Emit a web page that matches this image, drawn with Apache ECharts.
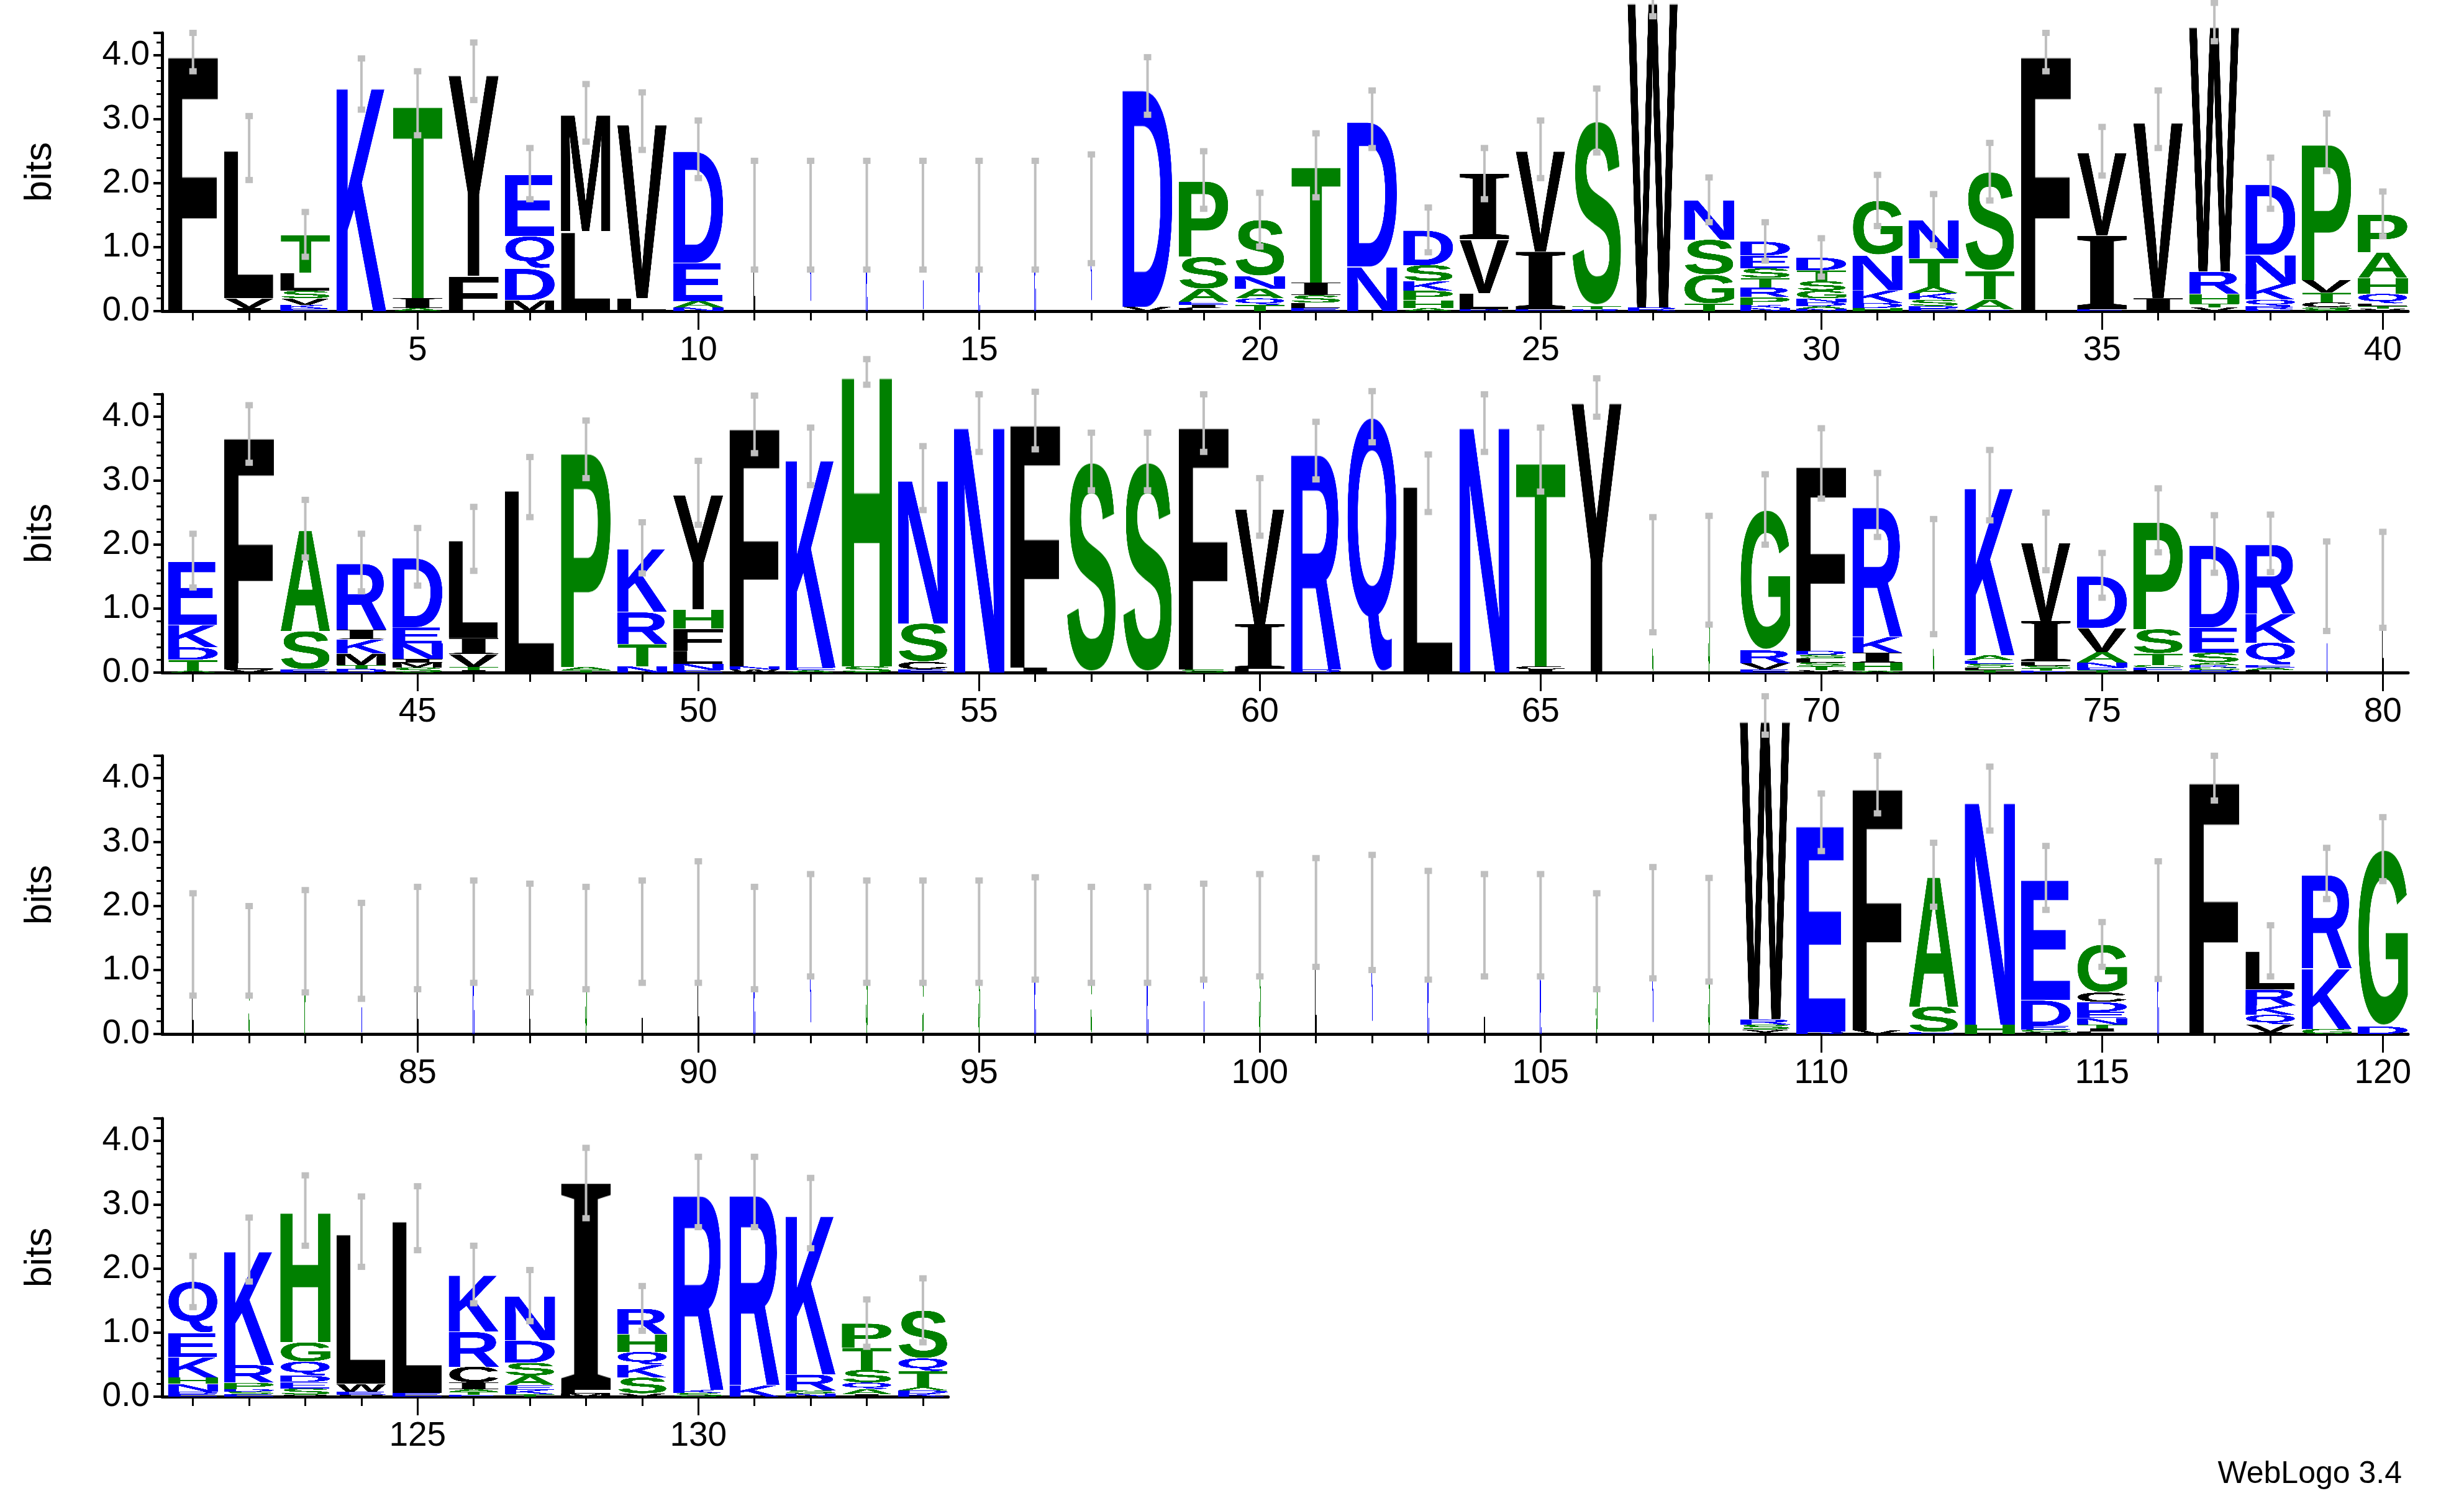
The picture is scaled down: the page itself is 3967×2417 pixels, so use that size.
<!DOCTYPE html>
<html><head><meta charset="utf-8">
<script src="https://cdn.jsdelivr.net/npm/echarts@6/dist/echarts.min.js"></script>
<style>html,body{margin:0;padding:0;background:#fff}#c{width:3967px;height:2417px}</style>
</head><body><div id="c"></div>
<script>
// ---------- DATA (letters listed bottom -> top, [letter, bits]) ----------
const row1Stacks = [
 [["F",4.05]],
 [["I",.05],["V",.15],["L",2.35]],
 [["E",.04],["K",.06],["V",.1],["S",.12],["L",.28],["T",.6]],
 [["K",3.55]],
 [["A",.05],["I",.15],["T",3.05]],
 [["F",.55],["Y",3.2]],
 [["M",.17],["D",.5],["Q",.5],["E",.98]],
 [["L",1.25],["M",1.85]],
 [["L",.2],["V",2.77]],
 [["N",.06],["A",.1],["E",.6],["D",1.77]],
 [["L",1.5]],[["K",1.5]],[["K",1.5]],[["K",1.5]],[["K",1.5]],[["K",1.5]],[["K",1.6]],
 [["V",.07],["D",3.45]],
 [["L",.05],["I",.05],["E",.05],["A",.2],["S",.5],["P",1.2]],
 [["T",.1],["Q",.1],["A",.15],["N",.2],["S",.88]],
 [["E",.05],["L",.08],["S",.12],["I",.2],["T",1.83]],
 [["N",.7],["D",2.3]],
 [["A",.05],["H",.12],["P",.15],["K",.15],["S",.25],["D",.55]],
 [["K",.03],["L",.25],["V",.85],["I",1.02]],
 [["E",.03],["I",.9],["V",1.6]],
 [["R",.03],["T",.05],["S",2.9]],
 [["R",.06],["W",4.85]],
 [["T",.12],["G",.45],["S",.55],["N",.62]],
 [["N",.05],["K",.05],["P",.12],["R",.15],["T",.15],["S",.15],["E",.2],["D",.22]],
 [["N",.04],["A",.04],["D",.06],["N",.06],["G",.12],["S",.15],["T",.17],["D",.2]],
 [["H",.05],["D",.08],["K",.2],["N",.55],["G",.85]],
 [["E",.04],["D",.04],["S",.1],["K",.1],["A",.1],["T",.45],["N",.6]],
 [["E",.03],["A",.15],["T",.45],["S",1.55]],
 [["F",4.05]],
 [["E",.03],["I",1.15],["V",1.32]],
 [["I",.2],["V",2.8]],
 [["V",.06],["T",.06],["H",.15],["R",.35],["W",3.9]],
 [["E",.03],["R",.05],["Q",.1],["K",.25],["N",.45],["D",1.12]],
 [["S",.03],["G",.03],["C",.08],["T",.15],["V",.2],["P",2.15]],
 [["V",.04],["T",.04],["L",.04],["Q",.15],["H",.25],["A",.4],["P",.6]]
];
const row1Err = [.3,.5,.35,.4,.5,.45,.4,.45,.45,.45,.85,.85,.85,.85,.85,.85,.85,.45,.45,.42,.5,.45,.35,.4,.45,.5,.3,.35,.3,.3,.4,.4,.45,.3,.38,.45,.3,.4,.45,.35];

const row2Stacks = [
 [["A",.03],["T",.17],["D",.2],["K",.35],["E",1.0]],
 [["V",.05],["L",.1],["F",3.58]],
 [["E",.05],["S",.6],["A",1.6]],
 [["D",.06],["T",.06],["M",.18],["K",.22],["I",.15],["R",1.05]],
 [["S",.08],["M",.08],["I",.05],["N",.25],["E",.25],["D",1.1]],
 [["I",.04],["T",.05],["V",.2],["I",.25],["L",1.55]],
 [["L",2.9]],
 [["T",.04],["A",.05],["P",3.4]],
 [["N",.1],["T",.35],["R",.5],["K",1.0]],
 [["E",.04],["N",.1],["L",.2],["F",.35],["H",.3],["Y",1.82]],
 [["W",.05],["N",.05],["F",3.78]],
 [["A",.04],["E",.04],["K",3.3]],
 [["S",.1],["H",4.6]],
 [["E",.05],["C",.12],["S",.6],["N",2.27]],
 [["N",3.9]],
 [["I",.08],["F",3.86]],
 [["S",3.3]],
 [["S",3.3]],
 [["S",.05],["F",3.85]],
 [["L",.06],["I",.7],["V",1.83]],
 [["D",.05],["R",3.42]],
 [["Q",4.0]],
 [["L",2.96]],
 [["N",3.9]],
 [["I",.05],["C",.05],["T",3.23]],
 [["Y",4.3]],
 [["S",1.53]],[["S",1.6]],
 [["E",.05],["V",.1],["R",.2],["G",2.2]],
 [["V",.04],["T",.06],["S",.06],["L",.06],["S",.06],["D",.06],["F",2.93]],
 [["A",.03],["H",.13],["I",.15],["K",.25],["R",2.06]],
 [["S",1.5]],
 [["T",.04],["L",.04],["S",.06],["E",.05],["A",.08],["K",2.66]],
 [["E",.03],["T",.04],["S",.04],["L",.06],["I",.64],["V",1.24]],
 [["T",.04],["E",.04],["N",.08],["A",.16],["V",.38],["D",.82]],
 [["L",.04],["E",.04],["G",.04],["T",.18],["S",.38],["P",1.7]],
 [["D",.04],["G",.04],["K",.04],["A",.04],["S",.15],["E",.4],["D",1.3]],
 [["L",.04],["A",.04],["E",.04],["Q",.35],["K",.45],["R",1.1]],
 [["N",1.35]],[["L",1.45]]
];
const row2Err = [.42,.45,.45,.45,.45,.5,.47,.45,.4,.5,.45,.45,.2,.5,.45,.45,.45,.45,.45,.45,.45,.4,.45,.45,.5,.3,.9,.85,.55,.55,.5,.9,.55,.45,.35,.5,.45,.45,.7,.75];

const row3Narrow = ["L","S","P","K","L","K","L","S","L","L","K","K","S","S","S","K","S","K","K","S","L","K","K","L","K","S","K","S"];
const row3NarrowHeights = [1.4,1.3,1.45,1.3,1.5,1.6,1.5,1.5,1.6,1.75,1.5,1.7,1.6,1.6,1.6,1.65,1.55,1.55,1.6,1.7,1.9,1.9,1.7,1.7,1.7,1.45,1.74,1.63];
const row3NarrowErr = [.8,.7,.8,.75,.8,.8,.85,.8,.8,.95,.8,.8,.8,.8,.8,.8,.75,.75,.75,.8,.85,.9,.85,.8,.8,.75,.87,.81];
const row3TailStacks = [
 [["Y",.07],["S",.08],["R",.08],["W",4.75]],
 [["R",.04],["E",3.27]],
 [["V",.06],["F",3.84]],
 [["E",.03],["S",.4],["A",2.06]],
 [["H",.15],["N",3.53]],
 [["C",.03],["G",.04],["E",.06],["D",.4],["E",1.91]],
 [["L",.04],["I",.05],["T",.06],["N",.1],["E",.1],["D",.15],["C",.15],["G",.75]],
 [["K",1.78]],
 [["F",4.0]],
 [["I",.03],["V",.12],["Q",.15],["K",.15],["R",.25],["L",.6]],
 [["G",.08],["K",.95],["R",1.48]],
 [["D",.12],["G",2.77]]
];
const row3TailErr = [.3,.45,.45,.5,.5,.5,.35,.92,.35,.4,.4,.5];

const row4Stacks = [
 [["E",.04],["D",.04],["N",.12],["H",.1],["K",.32],["E",.38],["Q",.8]],
 [["E",.04],["S",.04],["D",.04],["P",.1],["R",.28],["K",1.8]],
 [["V",.03],["S",.1],["E",.1],["D",.1],["Q",.22],["G",.3],["H",2.06]],
 [["V",.03],["E",.05],["W",.12],["L",2.38]],
 [["E",.06],["L",2.73]],
 [["E",.03],["T",.05],["A",.04],["I",.1],["C",.25],["R",.55],["K",.89]],
 [["T",.04],["K",.07],["E",.07],["A",.15],["S",.2],["D",.35],["N",.7]],
 [["M",.05],["L",.06],["I",3.23]],
 [["V",.05],["S",.25],["K",.2],["Q",.2],["H",.28],["R",.4]],
 [["S",.06],["K",.05],["R",3.09]],
 [["K",.18],["R",3.02]],
 [["N",.05],["S",.05],["R",.25],["K",2.52]],
 [["I",.04],["A",.08],["Q",.1],["S",.2],["T",.35],["P",.38]],
 [["K",.05],["D",.05],["A",.05],["T",.25],["Q",.2],["S",.75]]
];
const row4Err = [.4,.5,.55,.55,.5,.45,.4,.55,.35,.55,.55,.55,.37,.5];

const narrowPositions = [11,12,13,14,15,16,17,67,68,72,79,80,116];
const rowStarts = [1,41,81,121];
const rowEnds = [40,80,120,134];
const yTicks = [0,1,2,3,4];

// ---------- assemble ----------
const row3Stacks = row3Narrow.map((l,i)=>[[l,row3NarrowHeights[i]]]).concat(row3TailStacks);
const row3Err = row3NarrowErr.concat(row3TailErr);
const allStacks = [row1Stacks,row2Stacks,row3Stacks,row4Stacks];
const allErr = [row1Err,row2Err,row3Err,row4Err];
const isNarrow = p => narrowPositions.includes(p) || (p>=81 && p<=108);

const BLACK='FLIVMWYC', BLUE='DEKRNQ';
function colorOf(l){ return BLACK.includes(l)?'#000000':(BLUE.includes(l)?'#0000ff':'#008000'); }
const glyphCache = {};
function glyph(l){
  if (glyphCache[l]) return glyphCache[l];
  const font = (l==='I') ? 'bold 400px "Liberation Serif"' : 'bold 400px "Liberation Sans"';
  const m = document.createElement('canvas').getContext('2d');
  m.font = font;
  const mt = m.measureText(l);
  const L = Math.ceil(mt.actualBoundingBoxLeft), R = Math.ceil(mt.actualBoundingBoxRight);
  const A = Math.ceil(mt.actualBoundingBoxAscent), D = Math.ceil(mt.actualBoundingBoxDescent);
  const cv = document.createElement('canvas');
  cv.width = Math.max(1, L+R); cv.height = Math.max(1, A+D);
  const g = cv.getContext('2d'); g.font = font; g.fillStyle = colorOf(l);
  g.fillText(l, L, A);
  glyphCache[l] = cv; return cv;
}
const LETTERS = 'ACDEFGHIKLMNPQRSTVWY';

const PITCH = 90.4, ZERO=[501,1083,1665,2249], BIT=103, YMAX=4.35, LEFT=261;
const grids=[], xAxes=[], yAxes=[], series=[];
for (let r=0;r<4;r++){
  const s=rowStarts[r], e=rowEnds[r];
  const xmin=s-0.55, xmax=e+0.45;
  const h=YMAX*BIT;
  grids.push({left:LEFT, top:ZERO[r]-h, width:(xmax-xmin)*PITCH, height:h});
  const ints=[]; for(let p=s;p<=e;p++) ints.push(p);
  const fives=ints.filter(p=>p%5===0);
  xAxes.push({type:'value', gridIndex:r, position:'bottom', min:xmin, max:xmax,
    axisLine:{show:true,onZero:false,lineStyle:{color:'#000',width:5}},
    axisTick:{show:true,customValues:ints,length:15,lineStyle:{color:'#000',width:3}},
    axisLabel:{show:false}, splitLine:{show:false}});
  xAxes.push({type:'value', gridIndex:r, position:'bottom', min:xmin, max:xmax,
    axisLine:{show:false,onZero:false},
    axisTick:{show:true,customValues:fives,length:30,lineStyle:{color:'#000',width:3}},
    axisLabel:{show:true,customValues:fives,fontFamily:'Liberation Sans',fontSize:55,color:'#000',margin:36},
    splitLine:{show:false}});
  yAxes.push({type:'value', gridIndex:r, min:0, max:YMAX, interval:1,
    name:'bits', nameLocation:'middle', nameRotate:90, nameGap:165,
    nameTextStyle:{fontFamily:'Liberation Sans',fontSize:62,color:'#000'},
    axisLine:{show:true,lineStyle:{color:'#000',width:5}},
    axisTick:{show:true,length:14,lineStyle:{color:'#000',width:4}},
    minorTick:{show:true,splitNumber:5,length:9,lineStyle:{color:'#000',width:3}},
    axisLabel:{fontFamily:'Liberation Sans',fontSize:55,color:'#000',margin:20,
      formatter:v=> yTicks.includes(v)? v.toFixed(1):''},
    splitLine:{show:false}});
  const letterData=[], errData=[];
  allStacks[r].forEach((stack,i)=>{
    const p=s+i; let y=0; const w=isNarrow(p)?0.03:0.9;
    stack.forEach(([l,b])=>{ letterData.push([p,y,y+b,w,LETTERS.indexOf(l)]); y+=b; });
    errData.push([p,y,allErr[r][i]]);
  });
  series.push({type:'custom', xAxisIndex:2*r, yAxisIndex:r, clip:false, silent:true, z:2,
    data:letterData,
    renderItem:(params,api)=>{
      const p=api.value(0),y0=api.value(1),y1=api.value(2),w=api.value(3),l=LETTERS[api.value(4)];
      const a=api.coord([p-w/2,y1]), b=api.coord([p+w/2,y0]);
      const ww=Math.max(b[0]-a[0],1.2), hh=b[1]-a[1];
      if (hh<=0.3) return null;
      return {type:'image', style:{image:glyph(l), x:a[0]+(b[0]-a[0]-ww)/2, y:a[1], width:ww, height:hh}};
    }});
  series.push({type:'custom', xAxisIndex:2*r, yAxisIndex:r, clip:false, silent:true, z:5,
    data:errData,
    renderItem:(params,api)=>{
      const p=api.value(0),t=api.value(1),e=api.value(2);
      const hi=api.coord([p,t+e]), lo=api.coord([p,t-e]);
      const c='#bfbfbf';
      return {type:'group', children:[
        {type:'line', shape:{x1:hi[0],y1:hi[1],x2:lo[0],y2:lo[1]}, style:{stroke:c,lineWidth:4}},
        {type:'rect', shape:{x:hi[0]-6,y:hi[1]-5,width:12,height:10}, style:{fill:c}},
        {type:'rect', shape:{x:lo[0]-6,y:lo[1]-5,width:12,height:10}, style:{fill:c}}
      ]};
    }});
}
const chart = echarts.init(document.getElementById('c'), null, {renderer:'canvas'});
chart.setOption({
  animation:false, backgroundColor:'#fff',
  grid:grids, xAxis:xAxes, yAxis:yAxes, series:series,
  graphic:[{type:'text', right:100, bottom:18, style:{text:'WebLogo 3.4', font:'50px "Liberation Sans"', fill:'#000'}}]
});
</script></body></html>
